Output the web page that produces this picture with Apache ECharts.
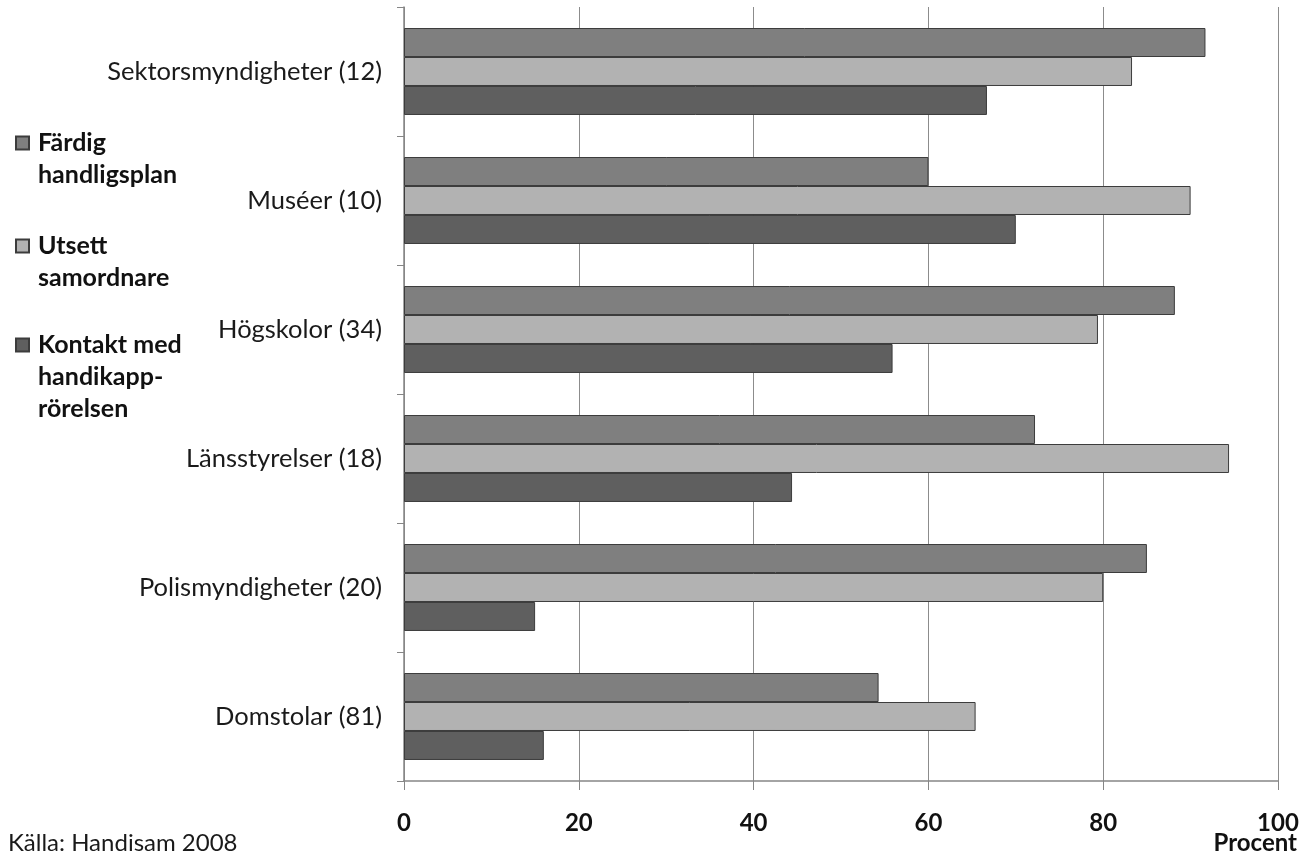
<!DOCTYPE html>
<html>
<head>
<meta charset="utf-8">
<script src="https://cdn.jsdelivr.net/npm/echarts@6/dist/echarts.min.js"></script>
<style>
html,body{margin:0;padding:0;background:#fff;}
#chart{width:1303px;height:857px;}
</style>
</head>
<body>
<div id="chart"></div>
<script>
const categories = ["Sektorsmyndigheter (12)", "Muséer (10)", "Högskolor (34)", "Länsstyrelser (18)", "Polismyndigheter (20)", "Domstolar (81)"];
const seriesNames = ["Färdig handligsplan", "Utsett samordnare", "Kontakt med handikapp-rörelsen"];
const legendLabels = ["Färdig\nhandligsplan", "Utsett\nsamordnare", "Kontakt med\nhandikapp-\nrörelsen"];
const fardigHandligsplan = [91.7, 60, 88.2, 72.2, 85, 54.3];
const utsettSamordnare = [83.3, 90, 79.4, 94.4, 80, 65.4];
const kontaktHandikapprorelsen = [66.7, 70, 55.9, 44.4, 15, 16.0];
const xTicks = [0, 20, 40, 60, 80, 100];
const axisName = "Procent";
const sourceNote = "Källa: Handisam 2008";

const colors = ["#7f7f7f", "#b2b2b2", "#5f5f5f"];
const values = [fardigHandligsplan, utsettSamordnare, kontaktHandikapprorelsen];
const FONT = "Lato";

const chart = echarts.init(document.getElementById('chart'), null, {renderer: 'canvas'});

const legendTops = [95, 198, 265];
const legends = seriesNames.map((n, i) => {
  const lines = legendLabels[i].split('\n').length;
  // leading empty lines so that the first text line is centred on the icon
  const label = '\n'.repeat(lines - 1) + legendLabels[i];
  return {
    data: [n],
    orient: 'vertical',
    left: 15,
    top: legendTops[i],
    padding: 0,
    icon: 'rect',
    itemWidth: 13,
    itemHeight: 13,
    selectedMode: false,
    formatter: () => label,
    textStyle: {
      fontFamily: FONT, fontSize: 25, fontWeight: 'bold', color: '#111',
      lineHeight: 32, padding: [0, 0, 0, 4]
    }
  };
});

const option = {
  animation: false,
  backgroundColor: '#ffffff',
  textStyle: {fontFamily: FONT},
  legend: legends,
  grid: {left: 404, right: 25, top: 7, bottom: 76, containLabel: false, outerBoundsMode: 'none'},
  xAxis: {
    type: 'value', min: xTicks[0], max: xTicks[xTicks.length - 1], interval: 20,
    axisLine: {show: true, lineStyle: {color: '#868686', width: 1.5}},
    axisTick: {show: true, length: 9, lineStyle: {color: '#868686'}},
    splitLine: {show: true, lineStyle: {color: '#8c8c8c', width: 1}},
    axisLabel: {margin: 30, fontFamily: FONT, fontSize: 24, fontWeight: 'bold', color: '#111'}
  },
  yAxis: {
    type: 'category', data: categories, inverse: true,
    axisLine: {show: true, lineStyle: {color: '#868686', width: 1.5}},
    axisTick: {show: true, length: 7, lineStyle: {color: '#868686'}},
    splitLine: {show: false},
    axisLabel: {margin: 22, fontFamily: FONT, fontSize: 25.5, color: '#1a1a1a'}
  },
  series: seriesNames.map((n, i) => ({
    name: n, type: 'bar', data: values[i],
    barGap: '0%', barCategoryGap: '32.6%',
    itemStyle: {color: colors[i], borderColor: '#3c3c3c', borderWidth: 1}
  })),
  graphic: [{
    type: 'text', left: 8, top: 831,
    style: {text: sourceNote, fontFamily: FONT, fontSize: 24, fill: '#1a1a1a'}
  }, {
    type: 'text', right: 6, top: 831,
    style: {text: axisName, fontFamily: FONT, fontSize: 24, fontWeight: 'bold', fill: '#111'}
  }]
};
chart.setOption(option);
</script>
</body>
</html>
